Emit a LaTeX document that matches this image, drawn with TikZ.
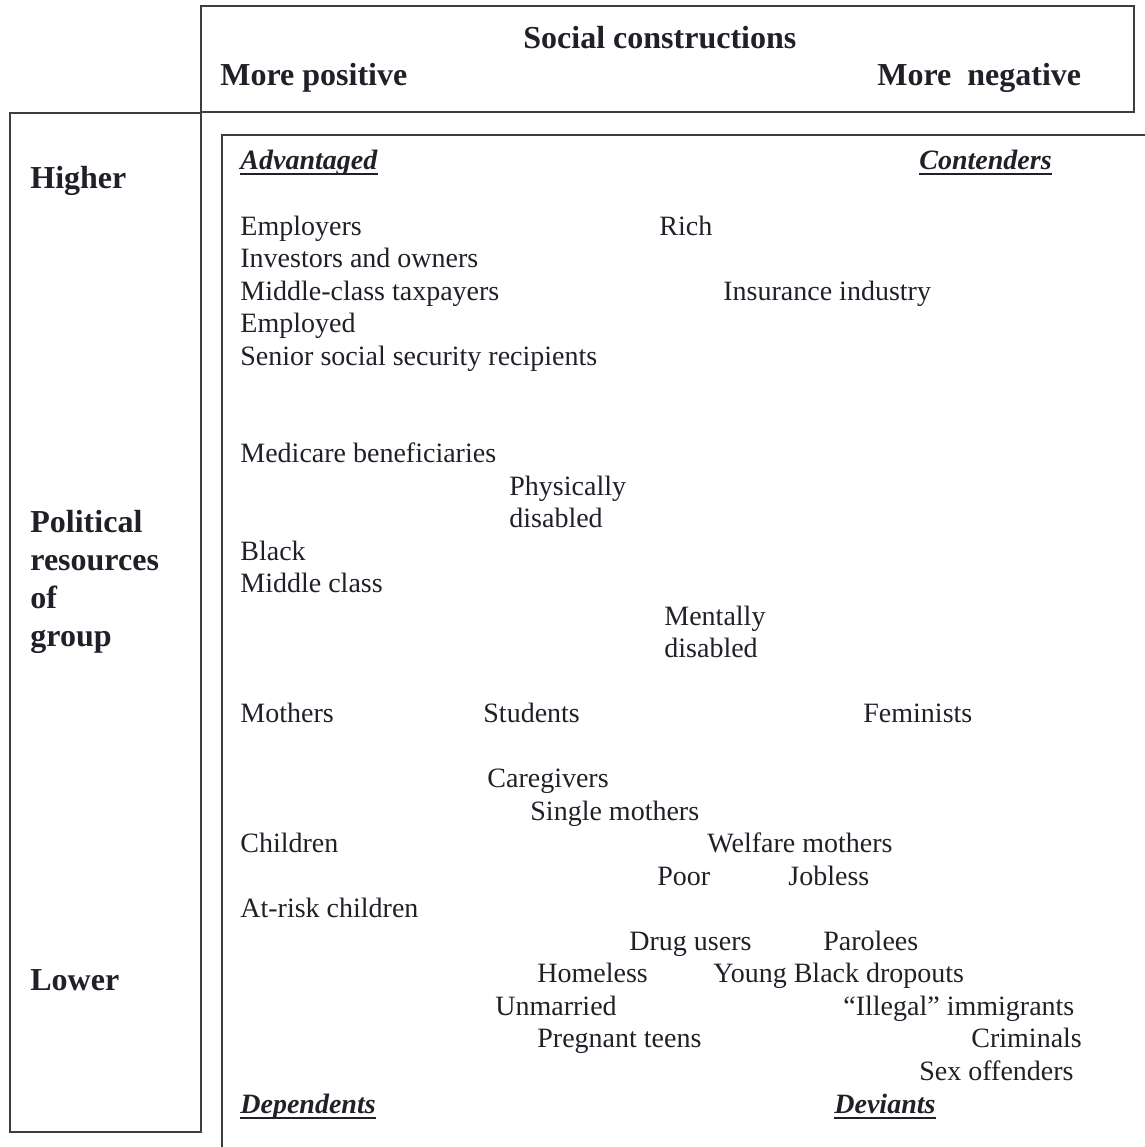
\documentclass[tikz,border=0pt]{standalone}
\usepackage{fontspec}
\setmainfont{Liberation Serif}
\usepackage{tikz}
\usetikzlibrary{positioning}
\definecolor{framegray}{RGB}{62,62,62}
\definecolor{inkdark}{RGB}{32,32,40}
\tikzset{
  frame/.style={draw=framegray, line width=1pt},
  grp/.style={anchor=base west, inner sep=0pt, text=inkdark,
              font=\fontsize{14pt}{16.25pt}\selectfont, align=left},
  axislab/.style={anchor=base west, inner sep=0pt, text=inkdark,
              font=\fontsize{16pt}{19pt}\selectfont\bfseries, align=left},
  quadlab/.style={anchor=base west, inner sep=0pt, text=inkdark,
              font=\fontsize{14pt}{17pt}\selectfont\bfseries\itshape},
  uline/.style={inkdark, line width=1.2pt},
}

\begin{document}
\begin{tikzpicture}[x=0.5pt, y=-0.5pt]
  \useasboundingbox (0,0) rectangle (1145,1147);
  % frames
  \draw[frame] (201,6) rectangle (1134,112);
  \draw[frame] (10,113) rectangle (201,1132);
  \draw[frame] (222,1147) -- (222,135) -- (1145,135);
  % social constructions axis
  \node[axislab] (soc) at (523,48) {Social constructions};
  \node[axislab] (mpos) at (220,85) {More positive};
  \node[axislab] (mneg) at (877,85) {More~ negative};
  % political resources axis (base = last line)
  \node[axislab] (hi) at (30,188) {Higher};
  \node[axislab] (pol) at (30,646) {Political\\resources\\of\\group};
  \node[axislab] (lo) at (30,990) {Lower};
  % quadrant names
  \node[quadlab] (adv) at (240,169) {Advantaged};
  \node[quadlab] (con) at (919,169) {Contenders};
  \node[quadlab] (dep) at (240,1113) {Dependents};
  \node[quadlab] (dev) at (834,1113) {Deviants};
  \foreach \q in {adv,con,dep,dev}
    \draw[uline] ([yshift=-2.6pt]\q.base west) -- ([yshift=-2.6pt]\q.base east);
  % target groups
  \node[grp] (emp)  at (240,235)   {Employers};
  \node[grp] (rich) at (659,235)   {Rich};
  \node[grp] (inv)  at (240,267.5) {Investors and owners};
  \node[grp] (mct)  at (240,300)   {Middle-class taxpayers};
  \node[grp] (ins)  at (723,300)   {Insurance industry};
  \node[grp] (empd) at (240,332.5) {Employed};
  \node[grp] (sen)  at (240,365)   {Senior social security recipients};
  \node[grp] (med)  at (240,462.5) {Medicare beneficiaries};
  \node[grp] (phys) at (509,527.5) {Physically\\disabled};
  \node[grp] (blk)  at (240,560)   {Black};
  \node[grp] (mid)  at (240,592.5) {Middle class};
  \node[grp] (ment) at (664,657.5) {Mentally\\disabled};
  \node[grp] (moth) at (240,722.5) {Mothers};
  \node[grp] (stud) at (483,722.5) {Students};
  \node[grp] (fem)  at (863,722.5) {Feminists};
  \node[grp] (care) at (487,787.5) {Caregivers};
  \node[grp] (sing) at (530,820)   {Single mothers};
  \node[grp] (chil) at (240,852.5) {Children};
  \node[grp] (welf) at (707,852.5) {Welfare mothers};
  \node[grp] (poor) at (657,885)   {Poor};
  \node[grp] (job)  at (788,885)   {Jobless};
  \node[grp] (risk) at (240,917.5) {At-risk children};
  \node[grp] (drug) at (629,950)   {Drug users};
  \node[grp] (par)  at (823,950)   {Parolees};
  \node[grp] (home) at (537,982.5) {Homeless};
  \node[grp] (ybd)  at (713,982.5) {Young Black dropouts};
  \node[grp] (unm)  at (495,1015)  {Unmarried};
  \node[grp] (ill)  at (843,1015)  {“Illegal” immigrants};
  \node[grp] (preg) at (537,1047.5){Pregnant teens};
  \node[grp] (crim) at (971,1047.5){Criminals};
  \node[grp] (sex)  at (919,1080)  {Sex offenders};
\end{tikzpicture}
\end{document}
